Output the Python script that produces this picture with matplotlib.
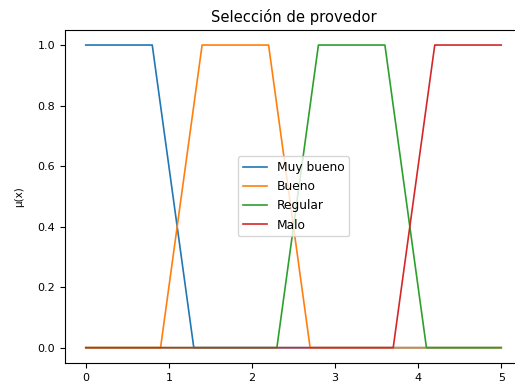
import matplotlib
matplotlib.use('Agg')
import matplotlib.pyplot as plt

# breakpoints of each trapezoid (x) and membership values (y)
muy_bueno_x = [0, 0.8, 1.3, 5]
muy_bueno_y = [1, 1, 0, 0]
bueno_x = [0, 0.9, 1.4, 2.2, 2.7, 5]
bueno_y = [0, 0, 1, 1, 0, 0]
regular_x = [0, 2.3, 2.8, 3.6, 4.1, 5]
regular_y = [0, 0, 1, 1, 0, 0]
malo_x = [0, 3.7, 4.2, 5]
malo_y = [0, 0, 1, 1]
labels = ['Muy bueno', 'Bueno', 'Regular', 'Malo']

fig = plt.figure(figsize=(5.15, 3.86), dpi=100)
ax = fig.add_axes([65 / 515, 23.2 / 386, 457 / 515, 332.9 / 386])

for xs, ys, lab in zip([muy_bueno_x, bueno_x, regular_x, malo_x],
                       [muy_bueno_y, bueno_y, regular_y, malo_y], labels):
    ax.plot(xs, ys, label=lab, lw=1.2)

ax.set_title('Selección de provedor', fontsize=10.6)
ax.set_ylabel('μ(x)', fontsize=7.5, labelpad=10)
ax.tick_params(labelsize=8, length=3.5)
ax.legend(loc='center', fontsize=8.8)

fig.savefig('out.png', dpi=100)
